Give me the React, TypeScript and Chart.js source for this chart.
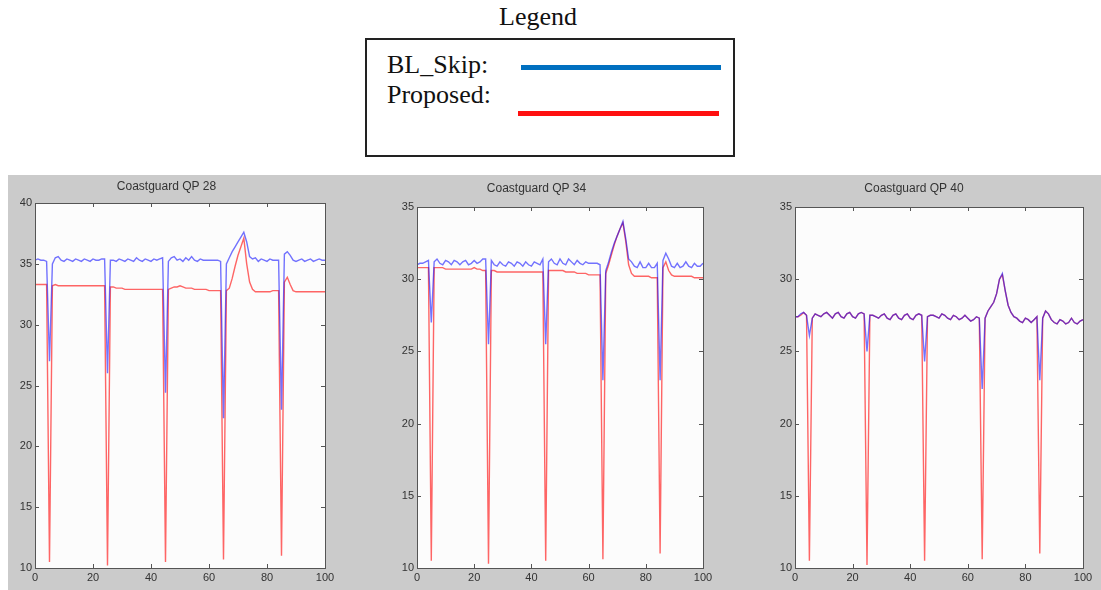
import React, { useEffect, useRef } from "react";
import { Chart, registerables } from "chart.js";

Chart.register(...registerables);

// Frame index shared by every series
const frames = Array.from({ length: 101 }, (_, i) => i);

const xTicks = [0, 20, 40, 60, 80, 100];

// Coastguard QP 28 — PSNR per frame
const blQp28 = [
  35.3, 35.4, 35.3, 35.3, 35.2, 27.0, 35.0, 35.5, 35.6, 35.3,
  35.2, 35.4, 35.3, 35.2, 35.4, 35.3, 35.2, 35.4, 35.3, 35.2,
  35.4, 35.3, 35.3, 35.4, 35.4, 26.0, 35.3, 35.3, 35.2, 35.4,
  35.3, 35.2, 35.4, 35.3, 35.2, 35.5, 35.3, 35.2, 35.4, 35.3,
  35.2, 35.4, 35.3, 35.4, 35.5, 24.4, 35.2, 35.5, 35.6, 35.3,
  35.4, 35.2, 35.5, 35.3, 35.6, 35.3, 35.2, 35.4, 35.3, 35.3,
  35.3, 35.3, 35.3, 35.3, 35.2, 22.3, 35.0, 35.5, 36.0, 36.4,
  36.8, 37.2, 37.6, 36.8, 35.6, 35.4, 35.5, 35.2, 35.4, 35.3,
  35.2, 35.4, 35.3, 35.3, 35.3, 23.0, 35.8, 36.0, 35.7, 35.3,
  35.2, 35.3, 35.4, 35.2, 35.3, 35.4, 35.2, 35.3, 35.4, 35.3,
  35.3,
];
const propQp28 = [
  33.3, 33.3, 33.3, 33.3, 33.3, 10.5, 33.2, 33.3, 33.2, 33.2,
  33.2, 33.2, 33.2, 33.2, 33.2, 33.2, 33.2, 33.2, 33.2, 33.2,
  33.2, 33.2, 33.2, 33.2, 33.2, 10.2, 33.1, 33.1, 33.0, 33.0,
  33.0, 32.9, 32.9, 32.9, 32.9, 32.9, 32.9, 32.9, 32.9, 32.9,
  32.9, 32.9, 32.9, 32.9, 32.9, 10.5, 32.9, 33.0, 33.1, 33.1,
  33.2, 33.1, 33.0, 33.0, 33.0, 32.9, 32.9, 32.9, 32.9, 32.9,
  32.8, 32.8, 32.8, 32.8, 32.8, 10.7, 32.8, 33.0, 33.8, 34.8,
  35.7, 36.4, 37.1, 35.0, 33.5, 32.9, 32.7, 32.7, 32.7, 32.7,
  32.7, 32.7, 32.8, 32.8, 32.8, 11.0, 33.5, 33.9, 33.3, 32.8,
  32.7, 32.7, 32.7, 32.7, 32.7, 32.7, 32.7, 32.7, 32.7, 32.7,
  32.7,
];

// Coastguard QP 34
const blQp34 = [
  31.0, 31.1, 31.1, 31.2, 31.3, 27.0, 31.2, 31.4, 31.1, 31.0,
  31.3, 31.2, 31.0, 31.3, 31.2, 31.0, 31.2, 31.3, 31.0, 31.1,
  31.3, 31.1, 31.2, 31.4, 31.4, 25.5, 31.3, 31.0, 30.9, 31.2,
  31.0, 30.9, 31.2, 31.1, 30.9, 31.2, 31.1, 30.9, 31.2, 31.0,
  30.9, 31.2, 31.1, 31.0, 31.4, 25.5, 31.2, 31.4, 31.1, 31.0,
  31.4, 31.1, 31.0, 31.4, 31.2, 31.0, 31.3, 31.1, 31.0, 31.2,
  31.1, 31.1, 31.1, 31.1, 31.0, 23.0, 30.6, 31.2, 31.9, 32.5,
  33.0, 33.5, 34.0, 32.8, 31.4, 31.2, 30.9, 30.8, 31.2, 30.8,
  30.8, 31.1, 30.8, 30.8, 31.1, 23.0, 31.3, 31.8, 31.4, 30.9,
  30.8, 31.1, 30.8, 30.9, 31.2, 30.9, 30.8, 31.1, 30.9, 30.9,
  31.1,
];
const propQp34 = [
  30.8, 30.8, 30.8, 30.8, 30.8, 10.5, 30.8, 30.8, 30.8, 30.8,
  30.7, 30.7, 30.7, 30.7, 30.7, 30.7, 30.7, 30.7, 30.7, 30.7,
  30.8, 30.7, 30.7, 30.6, 30.6, 10.3, 30.6, 30.6, 30.5, 30.5,
  30.5, 30.5, 30.5, 30.5, 30.5, 30.5, 30.5, 30.5, 30.5, 30.5,
  30.5, 30.5, 30.5, 30.5, 30.5, 10.5, 30.6, 30.6, 30.6, 30.6,
  30.6, 30.6, 30.5, 30.5, 30.5, 30.5, 30.4, 30.4, 30.4, 30.4,
  30.3, 30.3, 30.3, 30.3, 30.3, 10.6, 30.4, 31.0, 31.7, 32.4,
  33.0, 33.5, 33.9, 32.6, 31.0, 30.4, 30.2, 30.2, 30.2, 30.2,
  30.2, 30.2, 30.1, 30.1, 30.1, 11.0, 30.8, 31.2, 30.6, 30.3,
  30.2, 30.2, 30.2, 30.2, 30.2, 30.2, 30.2, 30.1, 30.1, 30.1,
  30.1,
];

// Coastguard QP 40
const blQp40 = [
  27.4, 27.4, 27.6, 27.7, 27.5, 26.1, 27.3, 27.6, 27.5, 27.4,
  27.6, 27.7, 27.5, 27.3, 27.6, 27.7, 27.4, 27.3, 27.6, 27.7,
  27.4, 27.3, 27.6, 27.7, 27.6, 25.0, 27.5, 27.5, 27.4, 27.3,
  27.5, 27.6, 27.3, 27.2, 27.5, 27.6, 27.3, 27.2, 27.5, 27.6,
  27.3, 27.2, 27.5, 27.6, 27.5, 24.3, 27.4, 27.5, 27.5, 27.4,
  27.3, 27.6, 27.5, 27.3, 27.2, 27.5, 27.4, 27.2, 27.3, 27.5,
  27.3, 27.1, 27.2, 27.4, 27.3, 22.4, 27.3, 27.8, 28.1, 28.4,
  29.0, 30.0, 30.4, 29.2, 28.2, 27.7, 27.4, 27.3, 27.1, 27.0,
  27.3, 27.2, 27.0, 27.2, 27.4, 23.0, 27.3, 27.8, 27.6, 27.2,
  27.0, 26.9, 27.2, 27.1, 26.9, 27.0, 27.3, 27.0, 26.9, 27.1,
  27.2,
];
const propQp40 = [
  27.4, 27.4, 27.5, 27.7, 27.5, 10.5, 27.3, 27.6, 27.5, 27.4,
  27.6, 27.7, 27.5, 27.3, 27.6, 27.7, 27.4, 27.3, 27.6, 27.7,
  27.4, 27.3, 27.6, 27.7, 27.6, 10.2, 27.5, 27.5, 27.4, 27.3,
  27.5, 27.6, 27.3, 27.2, 27.5, 27.6, 27.3, 27.2, 27.5, 27.6,
  27.3, 27.2, 27.5, 27.6, 27.5, 10.5, 27.4, 27.5, 27.5, 27.4,
  27.3, 27.6, 27.5, 27.3, 27.2, 27.5, 27.4, 27.2, 27.3, 27.5,
  27.3, 27.1, 27.2, 27.4, 27.3, 10.6, 27.3, 27.8, 28.1, 28.4,
  29.0, 30.0, 30.3, 29.2, 28.2, 27.7, 27.4, 27.3, 27.1, 27.0,
  27.3, 27.2, 27.0, 27.2, 27.4, 11.0, 27.3, 27.8, 27.6, 27.2,
  27.0, 26.9, 27.2, 27.1, 26.9, 27.0, 27.3, 27.0, 26.9, 27.1,
  27.2,
];

const yTicks28 = [10, 15, 20, 25, 30, 35, 40];
const yTicks34 = [10, 15, 20, 25, 30, 35];

const BLUE = "rgba(0, 0, 255, 0.55)";
const RED = "rgba(255, 0, 0, 0.6)";
const AXIS = "#555";
const TICK_TEXT = "#333";

const toPoints = (vals: number[]) => frames.map((f, i) => ({ x: f, y: vals[i] }));

// White axes box, full frame and inward tick marks on every side
const axesBox = {
  id: "axesBox",
  beforeDraw(chart: any) {
    const { ctx, chartArea: a } = chart;
    ctx.save();
    ctx.fillStyle = "#fcfcfc";
    ctx.fillRect(a.left, a.top, a.right - a.left, a.bottom - a.top);
    ctx.restore();
  },
  afterDraw(chart: any) {
    const { ctx, chartArea: a, scales } = chart;
    ctx.save();
    ctx.strokeStyle = AXIS;
    ctx.lineWidth = 1;
    ctx.strokeRect(a.left + 0.5, a.top + 0.5, a.right - a.left, a.bottom - a.top);
    const len = 4;
    ctx.beginPath();
    scales.x.ticks.forEach((t: any) => {
      const px = Math.round(scales.x.getPixelForValue(t.value)) + 0.5;
      ctx.moveTo(px, a.bottom);
      ctx.lineTo(px, a.bottom - len);
      ctx.moveTo(px, a.top);
      ctx.lineTo(px, a.top + len);
    });
    scales.y.ticks.forEach((t: any) => {
      const py = Math.round(scales.y.getPixelForValue(t.value)) + 0.5;
      ctx.moveTo(a.left, py);
      ctx.lineTo(a.left + len, py);
      ctx.moveTo(a.right, py);
      ctx.lineTo(a.right - len, py);
    });
    ctx.stroke();
    ctx.restore();
  },
};

type PanelProps = {
  left: number;
  width: number;
  yWidth: number;
  padRight: number;
  titleTop: number;
  titleBottom: number;
  title: string;
  yTicks: number[];
  blue: number[];
  red: number[];
};

function Panel(p: PanelProps) {
  const ref = useRef<HTMLCanvasElement | null>(null);

  useEffect(() => {
    if (!ref.current) return;
    const font = { family: "Arial, 'Liberation Sans', sans-serif", size: 11 };
    const chart = new Chart(ref.current, {
      type: "line",
      data: {
        datasets: [
          {
            label: "BL_Skip",
            data: toPoints(p.blue),
            borderColor: BLUE,
            borderWidth: 1.4,
            pointRadius: 0,
            tension: 0,
          },
          {
            label: "Proposed",
            data: toPoints(p.red),
            borderColor: RED,
            borderWidth: 1.4,
            pointRadius: 0,
            tension: 0,
          },
        ],
      },
      options: {
        responsive: false,
        animation: false,
        events: [],
        layout: { padding: { left: 0, right: p.padRight, top: 0, bottom: 0 } },
        plugins: {
          legend: { display: false },
          tooltip: { enabled: false },
          title: {
            display: true,
            text: p.title,
            color: TICK_TEXT,
            font: { family: "Arial, 'Liberation Sans', sans-serif", size: 12, weight: "normal" },
            padding: { top: p.titleTop, bottom: p.titleBottom },
          },
        },
        scales: {
          x: {
            type: "linear",
            min: xTicks[0],
            max: xTicks[xTicks.length - 1],
            afterBuildTicks: (s: any) => {
              s.ticks = xTicks.map((v) => ({ value: v }));
            },
            ticks: { color: TICK_TEXT, font, padding: 3, maxRotation: 0 },
            grid: { display: false, drawTicks: false },
            border: { display: false },
            afterFit: (s: any) => {
              s.height = 22;
            },
          },
          y: {
            type: "linear",
            min: p.yTicks[0],
            max: p.yTicks[p.yTicks.length - 1],
            afterBuildTicks: (s: any) => {
              s.ticks = p.yTicks.map((v) => ({ value: v }));
            },
            ticks: { color: TICK_TEXT, font, padding: 3 },
            grid: { display: false, drawTicks: false },
            border: { display: false },
            afterFit: (s: any) => {
              s.width = p.yWidth;
            },
          },
        },
      } as any,
      plugins: [axesBox],
    });
    return () => chart.destroy();
  }, []);

  return (
    <canvas
      ref={ref}
      width={p.width}
      height={415}
      style={{
        position: "absolute",
        left: p.left,
        top: 175,
        width: p.width,
        height: 415,
        filter: "blur(0.5px)",
      }}
    />
  );
}

const serif = "'Times New Roman', 'Liberation Serif', serif";

export default function App() {
  return (
    <div
      style={{
        position: "absolute",
        left: 0,
        top: 0,
        width: 1101,
        height: 590,
        background: "#ffffff",
        overflow: "hidden",
        fontFamily: serif,
      }}
    >
      {/* Legend */}
      <div
        style={{
          position: "absolute",
          left: 0,
          width: 1076,
          top: 2,
          textAlign: "center",
          fontSize: 26,
          lineHeight: "30px",
          color: "#111",
        }}
      >
        Legend
      </div>
      <div
        style={{
          position: "absolute",
          left: 365,
          top: 38,
          width: 370,
          height: 119,
          boxSizing: "border-box",
          border: "2px solid #222",
        }}
      />
      <div style={{ position: "absolute", left: 387, top: 50, fontSize: 26, lineHeight: "30px", color: "#111" }}>
        BL_Skip:
      </div>
      <div style={{ position: "absolute", left: 387, top: 80, fontSize: 26, lineHeight: "30px", color: "#111" }}>
        Proposed:
      </div>
      <div style={{ position: "absolute", left: 521, top: 65, width: 200, height: 5, background: "#0070c0" }} />
      <div style={{ position: "absolute", left: 518, top: 111, width: 201, height: 5, background: "#ff1010" }} />

      {/* Figure panel */}
      <div
        style={{
          position: "absolute",
          left: 8,
          top: 175,
          width: 1093,
          height: 415,
          background: "#cbcbcb",
        }}
      />
      <Panel
        left={8}
        width={352}
        yWidth={27}
        padRight={35}
        titleTop={4}
        titleBottom={9.6}
        title="Coastguard QP 28"
        yTicks={yTicks28}
        blue={blQp28}
        red={propQp28}
      />
      <Panel
        left={370}
        width={370}
        yWidth={47}
        padRight={37}
        titleTop={6}
        titleBottom={11.6}
        title="Coastguard QP 34"
        yTicks={yTicks34}
        blue={blQp34}
        red={propQp34}
      />
      <Panel
        left={745}
        width={356}
        yWidth={50}
        padRight={18}
        titleTop={6}
        titleBottom={11.6}
        title="Coastguard QP 40"
        yTicks={yTicks34}
        blue={blQp40}
        red={propQp40}
      />
    </div>
  );
}
